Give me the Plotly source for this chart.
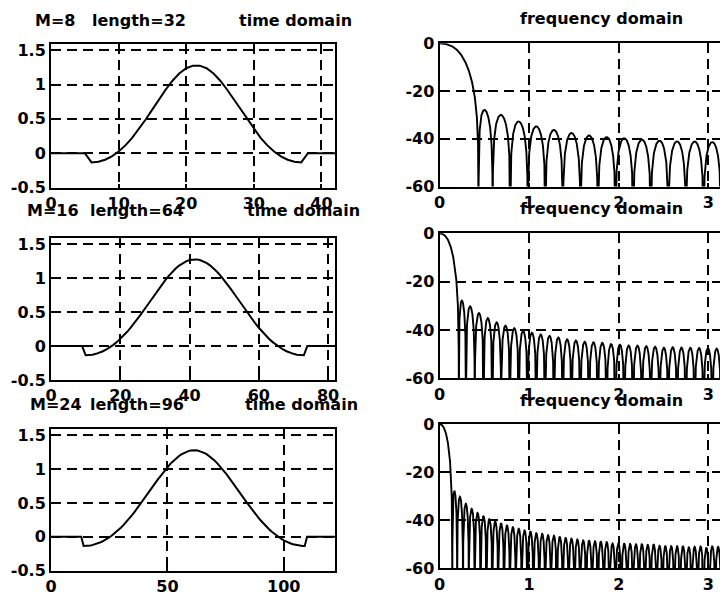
import numpy as np
import plotly.graph_objects as go

# ---------------- data ----------------
pulse_32 = [-0.135, -0.125, -0.096, -0.047, 0.023, 0.113, 0.222, 0.349, 0.490, 0.638,
            0.788, 0.931, 1.059, 1.163, 1.237, 1.275, 1.275, 1.237, 1.163, 1.059,
            0.931, 0.788, 0.638, 0.490, 0.349, 0.222, 0.113, 0.023, -0.047, -0.096,
            -0.125, -0.135]

pulse_64 = [-0.135, -0.133, -0.126, -0.114, -0.097, -0.076, -0.050, -0.019, 0.018, 0.059,
            0.105, 0.155, 0.211, 0.271, 0.334, 0.401, 0.471, 0.543, 0.617, 0.691,
            0.765, 0.837, 0.907, 0.974, 1.036, 1.093, 1.144, 1.188, 1.224, 1.251,
            1.270, 1.279, 1.279, 1.270, 1.251, 1.224, 1.188, 1.144, 1.093, 1.036,
            0.974, 0.907, 0.837, 0.765, 0.691, 0.617, 0.543, 0.471, 0.401, 0.334,
            0.271, 0.211, 0.155, 0.105, 0.059, 0.018, -0.019, -0.050, -0.076, -0.097,
            -0.114, -0.126, -0.133, -0.135]

pulse_96 = [-0.135, -0.134, -0.131, -0.126, -0.118, -0.109, -0.098, -0.084, -0.069, -0.051,
            -0.031, -0.009, 0.016, 0.043, 0.071, 0.102, 0.135, 0.170, 0.207, 0.246,
            0.287, 0.329, 0.373, 0.419, 0.465, 0.513, 0.561, 0.610, 0.659, 0.708,
            0.757, 0.805, 0.853, 0.899, 0.944, 0.987, 1.029, 1.067, 1.104, 1.137,
            1.168, 1.195, 1.219, 1.239, 1.255, 1.267, 1.276, 1.280,
            1.280, 1.276, 1.267, 1.255, 1.239, 1.219, 1.195, 1.168, 1.137, 1.104,
            1.067, 1.029, 0.987, 0.944, 0.899, 0.853, 0.805, 0.757, 0.708, 0.659,
            0.610, 0.561, 0.513, 0.465, 0.419, 0.373, 0.329, 0.287, 0.246, 0.207,
            0.170, 0.135, 0.102, 0.071, 0.043, 0.016, -0.009, -0.031, -0.051, -0.069,
            -0.084, -0.098, -0.109, -0.118, -0.126, -0.131, -0.134, -0.135]

M_values = [8, 16, 24]
lengths = [32, 64, 96]
lead_zeros = [6, 10, 14]
time_x_max = [42, 82, 122]
time_xticks = [[0, 10, 20, 30, 40], [0, 20, 40, 60, 80], [0, 50, 100]]
time_yticks = [-0.5, 0, 0.5, 1, 1.5]
time_yticklabels = ["-0.5", "0", "0.5", "1", "1.5"]
freq_xticks = [0, 1, 2, 3]
freq_yticks = [-60, -40, -20, 0]
freq_yticklabels = ["-60", "-40", "-20", "0"]
pulses = [pulse_32, pulse_64, pulse_96]

# ---------------- layout geometry (pixels) ----------------
W, H = 720, 596
left_x = (51, 335)
right_x = (439.5, 720)
left_rows = [(44, 187.5), (238.3, 380), (429.3, 570.7)]
right_rows = [(43.3, 186.5), (233.3, 378.3), (424, 568.3)]

FONT = dict(family="DejaVu Sans", size=16, color="black", weight="bold")


def xd(a, b):
    return [a / W, b / W]


def yd(top, bot):
    return [1 - bot / H, 1 - top / H]


fig = go.Figure()
layout = dict(
    width=W, height=H, margin=dict(l=0, r=0, t=0, b=0, autoexpand=False),
    paper_bgcolor="white", plot_bgcolor="white", showlegend=False,
    font=FONT,
)

common_axis = dict(
    showline=True, linecolor="black", linewidth=2,
    showgrid=True, gridcolor="black", gridwidth=1.6, griddash="10px,6px",
    zeroline=False, ticks="inside", ticklen=4, tickwidth=1.5, tickcolor="black",
    tickfont=FONT, automargin=False,
)

annotations = []
for i in range(3):
    p = pulses[i]
    samples = [0.0] * lead_zeros[i] + p
    samples = samples + [0.0] * (time_x_max[i] + 1 - len(samples))
    x = np.arange(len(samples))

    # frequency response of the same pulse
    Hf = np.abs(np.fft.rfft(np.asarray(p), 8192))
    db = 20 * np.log10(np.maximum(Hf / Hf[0], 1e-6))
    w = np.linspace(0, np.pi, len(Hf))

    ax_l = 2 * i + 1
    ax_r = 2 * i + 2
    fig.add_trace(go.Scatter(x=x, y=samples, mode="lines",
                             line=dict(color="black", width=2),
                             xaxis=f"x{ax_l}", yaxis=f"y{ax_l}"))
    fig.add_trace(go.Scatter(x=w, y=db, mode="lines",
                             line=dict(color="black", width=1.9),
                             xaxis=f"x{ax_r}", yaxis=f"y{ax_r}"))

    sl = "" if ax_l == 1 else str(ax_l)
    sr = str(ax_r)
    layout[f"xaxis{sl}"] = dict(common_axis, domain=xd(*left_x), anchor=f"y{ax_l}",
                                range=[0, time_x_max[i]], tickvals=time_xticks[i],
                                mirror=True)
    layout[f"yaxis{sl}"] = dict(common_axis, domain=yd(*left_rows[i]), anchor=f"x{ax_l}",
                                range=[-0.5, 1.59], tickvals=time_yticks,
                                ticktext=time_yticklabels, mirror=True)
    layout[f"xaxis{sr}"] = dict(common_axis, domain=xd(*right_x), anchor=f"y{ax_r}",
                                range=[0, 3.13], tickvals=freq_xticks, mirror=True)
    layout[f"yaxis{sr}"] = dict(common_axis, domain=yd(*right_rows[i]), anchor=f"x{ax_r}",
                                range=[-60, 0], tickvals=freq_yticks,
                                ticktext=freq_yticklabels, mirror=False)

# titles
title_rows = [
    dict(mx=33, lx=90, y=20.7, tx=295, fy=18.3),
    dict(mx=25, lx=88, y=210, tx=303, fy=208.3),
    dict(mx=28, lx=88, y=404, tx=301, fy=400),
]
for i, tr in enumerate(title_rows):
    yy = 1 - tr["y"] / H
    annotations.append(dict(text=f"M={M_values[i]}", x=tr["mx"] / W, y=yy, xref="paper",
                            yref="paper", xanchor="left", yanchor="middle",
                            showarrow=False, font=FONT))
    annotations.append(dict(text=f"length={lengths[i]}", x=tr["lx"] / W, y=yy,
                            xref="paper", yref="paper", xanchor="left",
                            yanchor="middle", showarrow=False, font=FONT))
    annotations.append(dict(text="time domain", x=tr["tx"] / W, y=yy, xref="paper",
                            yref="paper", xanchor="center", yanchor="middle",
                            showarrow=False, font=FONT))
    annotations.append(dict(text="frequency domain", x=601 / W, y=1 - tr["fy"] / H,
                            xref="paper", yref="paper", xanchor="center",
                            yanchor="middle", showarrow=False, font=FONT))

layout["annotations"] = annotations
fig.update_layout(**layout)
fig.write_html(
    "out.html",
    config={"displayModeBar": False},
    post_script="document.body.style.margin='0';document.body.style.overflow='hidden';",
)
